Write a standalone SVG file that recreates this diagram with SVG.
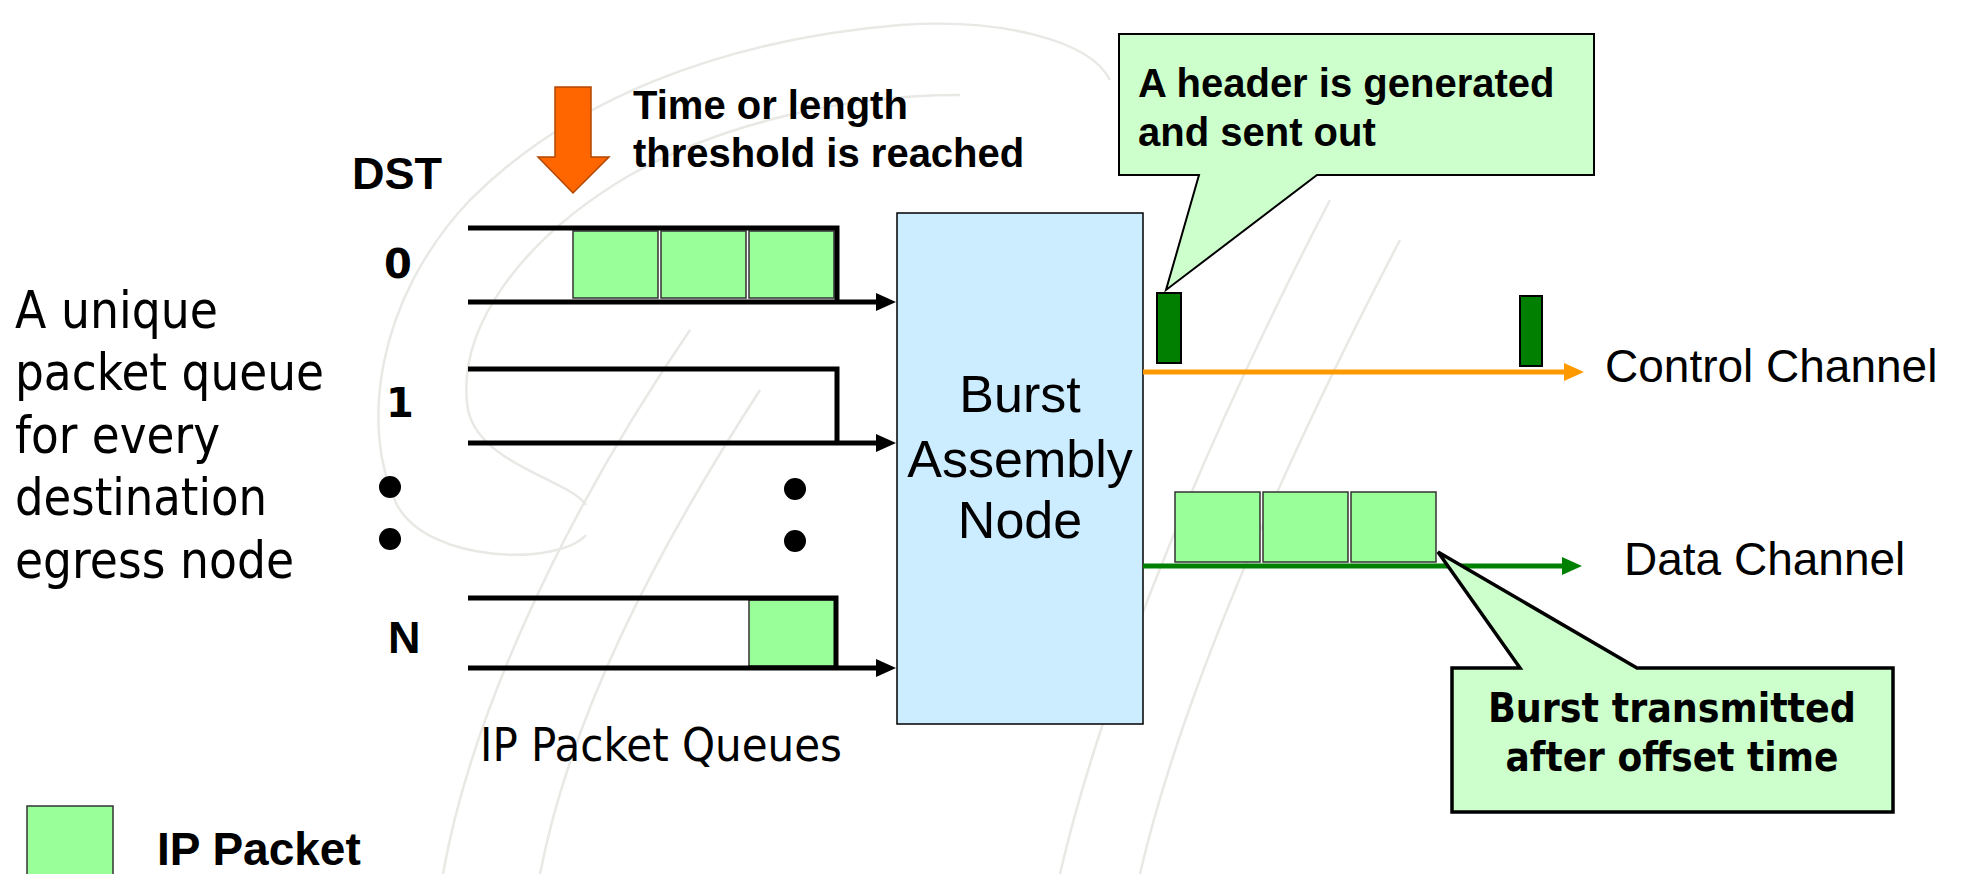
<svg xmlns="http://www.w3.org/2000/svg" width="1961" height="874" viewBox="0 0 1961 874">
<defs>
<style>
.arial{font-family:"Liberation Sans",Arial,sans-serif;fill:#000;}
.tah{font-family:"DejaVu Sans",Verdana,sans-serif;fill:#000;}
.b{font-weight:bold;}
.pkt{fill:#99FF99;stroke:#333;stroke-width:1.5;}
.q{fill:none;stroke:#000;stroke-width:5;}
.wm{fill:none;stroke:#E8E8E5;stroke-width:2.5;}
.callout{fill:#CCFFCC;stroke:#000;}
.hdr{fill:#007F00;stroke:#000;stroke-width:2;}
</style>
<marker id="ahK" markerUnits="userSpaceOnUse" markerWidth="20" markerHeight="20" viewBox="0 0 20 20" refX="4" refY="10" orient="auto">
<path d="M0,1 L20,10 L0,19 Z" fill="#000"/>
</marker>
<marker id="ahO" markerUnits="userSpaceOnUse" markerWidth="20" markerHeight="20" viewBox="0 0 20 20" refX="4" refY="10" orient="auto">
<path d="M0,1 L20,10 L0,19 Z" fill="#FF9900"/>
</marker>
<marker id="ahG" markerUnits="userSpaceOnUse" markerWidth="20" markerHeight="20" viewBox="0 0 20 20" refX="4" refY="10" orient="auto">
<path d="M0,1 L20,10 L0,19 Z" fill="#008000"/>
</marker>
</defs>
<rect width="1961" height="874" fill="#FFFFFF"/>
<g id="watermark">
<path class="wm" d="M586,535 C560,565 430,565 397,505 C360,430 375,300 470,200 C570,100 720,40 900,25 C1000,18 1090,40 1110,80"/>
<path class="wm" d="M586,505 C570,480 480,465 468,410 C455,330 520,240 630,175 C720,125 840,95 960,95"/>
<path class="wm" d="M443,874 C470,720 560,520 690,330"/>
<path class="wm" d="M540,874 C570,720 650,560 760,390"/>
<path class="wm" d="M1060,874 C1100,700 1200,450 1330,200"/>
<path class="wm" d="M1140,874 C1180,700 1280,470 1400,240"/>
</g>
<g id="left-text">
<text class="tah" font-size="52" x="15" y="328" textLength="203" lengthAdjust="spacingAndGlyphs">A unique</text>
<text class="tah" font-size="52" x="15" y="390" textLength="309" lengthAdjust="spacingAndGlyphs">packet queue</text>
<text class="tah" font-size="52" x="15" y="453" textLength="205" lengthAdjust="spacingAndGlyphs">for every</text>
<text class="tah" font-size="52" x="15" y="515" textLength="252" lengthAdjust="spacingAndGlyphs">destination</text>
<text class="tah" font-size="52" x="15" y="578" textLength="279" lengthAdjust="spacingAndGlyphs">egress node</text>
</g>
<g id="legend">
<rect class="pkt" x="27" y="806" width="86" height="80"/>
<text class="arial b" font-size="46" x="157" y="865">IP Packet</text>
</g>
<g id="threshold">
<polygon points="555,87 591,87 591,157 609,157 573,193 538,157 555,157" fill="#FF6600" stroke="#B34700" stroke-width="1.5"/>
<text class="arial b" font-size="40" x="633" y="119">Time or length</text>
<text class="arial b" font-size="40" x="633" y="167">threshold is reached</text>
</g>
<g id="dst-labels">
<text class="arial b" font-size="45" x="352" y="189">DST</text>
<text class="tah b" font-size="40" x="384" y="278">0</text>
<text class="tah b" font-size="40" x="386" y="417">1</text>
<text class="arial b" font-size="45" x="388" y="653">N</text>
<circle cx="390" cy="487" r="11"/>
<circle cx="390" cy="539" r="11"/>
<circle cx="795" cy="489" r="11"/>
<circle cx="795" cy="541" r="11"/>
</g>
<g id="queue0">
<rect class="pkt" x="573" y="231" width="85" height="67"/>
<rect class="pkt" x="661" y="231" width="85" height="67"/>
<rect class="pkt" x="749" y="231" width="85" height="67"/>
<path class="q" d="M468,228 H837 V300"/>
</g>
<g id="queue1">
<path class="q" d="M468,369 H837 V441"/>
</g>
<g id="queueN">
<rect class="pkt" x="749" y="600" width="86" height="66"/>
<path class="q" d="M468,598 H836 V666"/>
</g>
<text class="tah" font-size="47" x="480" y="761" textLength="362" lengthAdjust="spacingAndGlyphs">IP Packet Queues</text>
<g id="burst-assembly-node">
<rect x="897" y="213" width="246" height="511" fill="#CCECFF" stroke="#000" stroke-width="1.5"/>
<text class="arial" font-size="52" x="1020" y="412" text-anchor="middle">Burst</text>
<text class="arial" font-size="52" x="1020" y="477" text-anchor="middle">Assembly</text>
<text class="arial" font-size="52" x="1020" y="538" text-anchor="middle">Node</text>
</g>
<g id="connectors">
<path class="q" d="M468,302 H880" marker-end="url(#ahK)"/>
<path class="q" d="M468,443 H880" marker-end="url(#ahK)"/>
<path class="q" d="M468,668 H880" marker-end="url(#ahK)"/>
<path d="M1143,372 H1568" fill="none" stroke="#FF9900" stroke-width="5" marker-end="url(#ahO)"/>
<path d="M1143,566 H1566" fill="none" stroke="#008000" stroke-width="5" marker-end="url(#ahG)"/>
</g>
<g id="control-channel">
<rect class="hdr" x="1157" y="293" width="24" height="70"/>
<rect class="hdr" x="1520" y="296" width="22" height="70"/>
<text class="arial" font-size="46" x="1605" y="382">Control Channel</text>
</g>
<g id="data-channel">
<rect class="pkt" x="1175" y="492" width="85" height="70"/>
<rect class="pkt" x="1263" y="492" width="85" height="70"/>
<rect class="pkt" x="1351" y="492" width="85" height="70"/>
<text class="arial" font-size="46" x="1624" y="575">Data Channel</text>
</g>
<g id="header-callout">
<path class="callout" stroke-width="2" d="M1119,34 L1594,34 L1594,175 L1317,175 L1166,290 L1199,175 L1119,175 Z"/>
<text class="arial b" font-size="40" x="1138" y="97">A header is generated</text>
<text class="arial b" font-size="40" x="1138" y="146">and sent out</text>
</g>
<g id="burst-callout">
<path class="callout" stroke-width="3.5" d="M1452,668 L1520,668 L1438,552 L1637,668 L1893,668 L1893,812 L1452,812 Z"/>
<text class="tah b" font-size="40" x="1672" y="722" text-anchor="middle" textLength="368" lengthAdjust="spacingAndGlyphs">Burst transmitted</text>
<text class="tah b" font-size="40" x="1672" y="771" text-anchor="middle" textLength="333" lengthAdjust="spacingAndGlyphs">after offset time</text>
</g>
</svg>
